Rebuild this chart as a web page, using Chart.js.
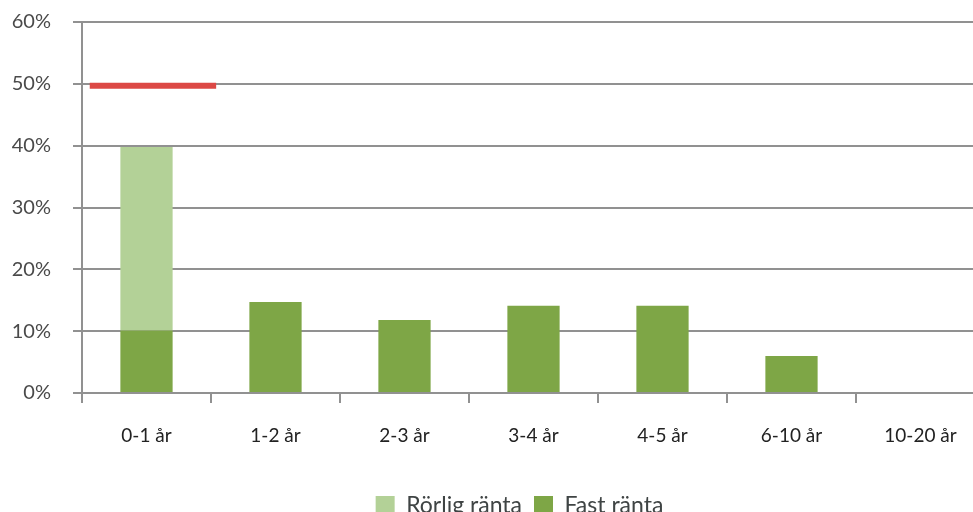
<!DOCTYPE html>
<html>
<head>
<meta charset="utf-8">
<script src="https://cdn.jsdelivr.net/npm/chart.js@4/dist/chart.umd.min.js"></script>
<style>
  html, body { margin: 0; padding: 0; overflow: hidden; background: #fff; }
  #wrap { width: 985px; height: 527px; position: relative; }
</style>
</head>
<body>
<div id="wrap"><canvas id="c"></canvas></div>
<script>
const categories = ['0-1 år', '1-2 år', '2-3 år', '3-4 år', '4-5 år', '6-10 år', '10-20 år'];
const fastRanta = [10.1, 14.7, 11.8, 14.1, 14.1, 6.0, 0];
const rorligRanta = [29.7, 0, 0, 0, 0, 0, 0];
const limitValue = 49.7;
const limitSpan = [-0.44, 0.54];
const yTicks = [0, 10, 20, 30, 40, 50, 60];

const gridColor = '#919191';
const textColor = '#4a4a4a';

const legendShift = {
  id: 'legendShift',
  beforeDraw(chart) {
    const lg = chart.legend;
    if (lg) { lg.left += 27; lg.right += 27; }
  }
};

new Chart(document.getElementById('c'), {
  type: 'bar',
  plugins: [legendShift],
  data: {
    labels: categories,
    datasets: [
      { label: 'Fast ränta', data: fastRanta, backgroundColor: '#7ea646', stack: 's', grouped: false },
      { label: 'Rörlig ränta', data: rorligRanta, backgroundColor: '#b3d197', stack: 's', grouped: false },
      {
        type: 'line', label: 'limit', xAxisID: 'x2',
        data: limitSpan.map(x => ({ x: x, y: limitValue })),
        borderColor: '#dc4845', borderWidth: 6, pointRadius: 0, fill: false, stack: 'limit'
      }
    ]
  },
  options: {
    responsive: true,
    maintainAspectRatio: false,
    animation: false,
    categoryPercentage: 1,
    barPercentage: 0.405,
    layout: { padding: { top: 22, left: 0, right: 0, bottom: 0 } },
    plugins: {
      tooltip: { enabled: false },
      legend: {
        position: 'bottom',
        reverse: true,
        labels: {
          filter: (item) => item.text !== 'limit',
          boxWidth: 19, boxHeight: 19, padding: 12,
          color: '#3f4444',
          font: { family: 'Lato', size: 23 }
        }
      }
    },
    scales: {
      x: {
        stacked: true,
        grid: { offset: true, drawOnChartArea: false, drawTicks: true, tickLength: 10, color: gridColor, lineWidth: 2 },
        border: { display: false },
        ticks: { color: '#222', padding: 21, font: { family: 'Lato', size: 19 } },
        afterFit: (s) => { s.height = 89; }
      },
      x2: {
        type: 'linear', min: -0.5, max: 6.5, display: false, offset: false,
        grid: { offset: false }
      },
      y: {
        stacked: true, min: 0, max: 60,
        afterBuildTicks: (s) => { s.ticks = yTicks.map(v => ({ value: v })); },
        grid: { color: gridColor, lineWidth: 2, tickLength: 9 },
        border: { color: gridColor, width: 2 },
        ticks: { color: textColor, padding: 22, font: { family: 'Lato', size: 20 }, callback: (v) => v + '%' },
        afterFit: (s) => { s.width = 82; s.paddingTop = 0; s.paddingBottom = 0; }
      }
    }
  }
});
</script>
</body>
</html>
